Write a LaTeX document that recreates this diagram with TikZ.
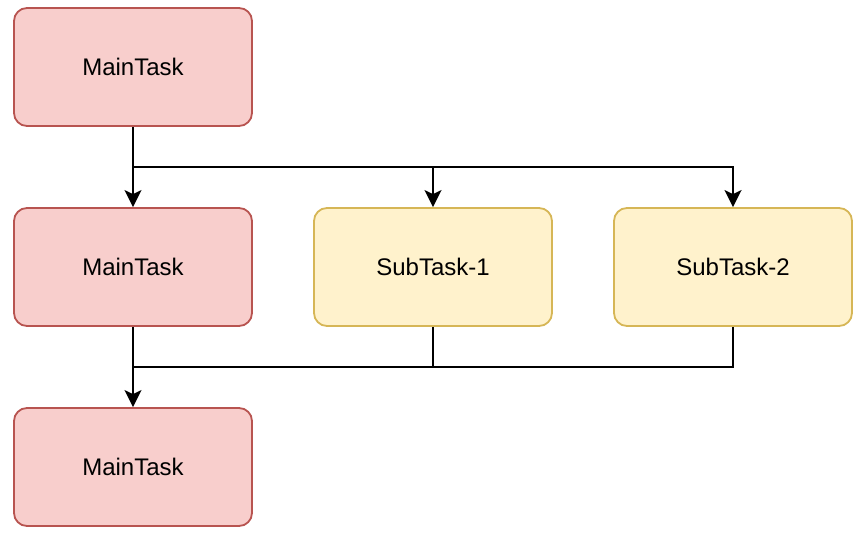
\documentclass[tikz,border=0pt]{standalone}
\usepackage{fontspec}
\setmainfont{Liberation Sans}
\usetikzlibrary{arrows.meta}
\definecolor{redfill}{HTML}{F8CECC}
\definecolor{redline}{HTML}{B85450}
\definecolor{yelfill}{HTML}{FFF2CC}
\definecolor{yelline}{HTML}{D6B656}
\tikzset{
  box/.style={draw, line width=1.8pt, rounded corners=13pt, minimum width=238pt, minimum height=118pt, inner sep=0pt, font=\fontsize{24}{28}\selectfont},
  redbox/.style={box, fill=redfill, draw=redline},
  yelbox/.style={box, fill=yelfill, draw=yelline},
  conn/.style={line width=2pt, black},
  arr/.style={conn, -{Stealth[length=17pt,width=17pt,inset=4pt]}}
}
\begin{document}
\begin{tikzpicture}[x=1pt,y=1pt]
\useasboundingbox (0,0) rectangle (868,-537);
\node[redbox] (m1) at (133,-67) {MainTask};
\node[redbox] (m2) at (133,-267) {MainTask};
\node[yelbox] (s1) at (433,-267) {SubTask-1};
\node[yelbox] (s2) at (733,-267) {SubTask-2};
\node[redbox] (m3) at (133,-467) {MainTask};
\coordinate (b1) at (133,-167);
\coordinate (b2) at (133,-367);
\draw[arr] (m1.south) -- (m2.north);
\draw[arr] (b1) -| (s1.north);
\draw[arr] (b1) -| (s2.north);
\draw[arr] (m2.south) -- (m3.north);
\draw[conn] (s1.south) |- (b2);
\draw[conn] (s2.south) |- (b2);
\end{tikzpicture}
\end{document}
